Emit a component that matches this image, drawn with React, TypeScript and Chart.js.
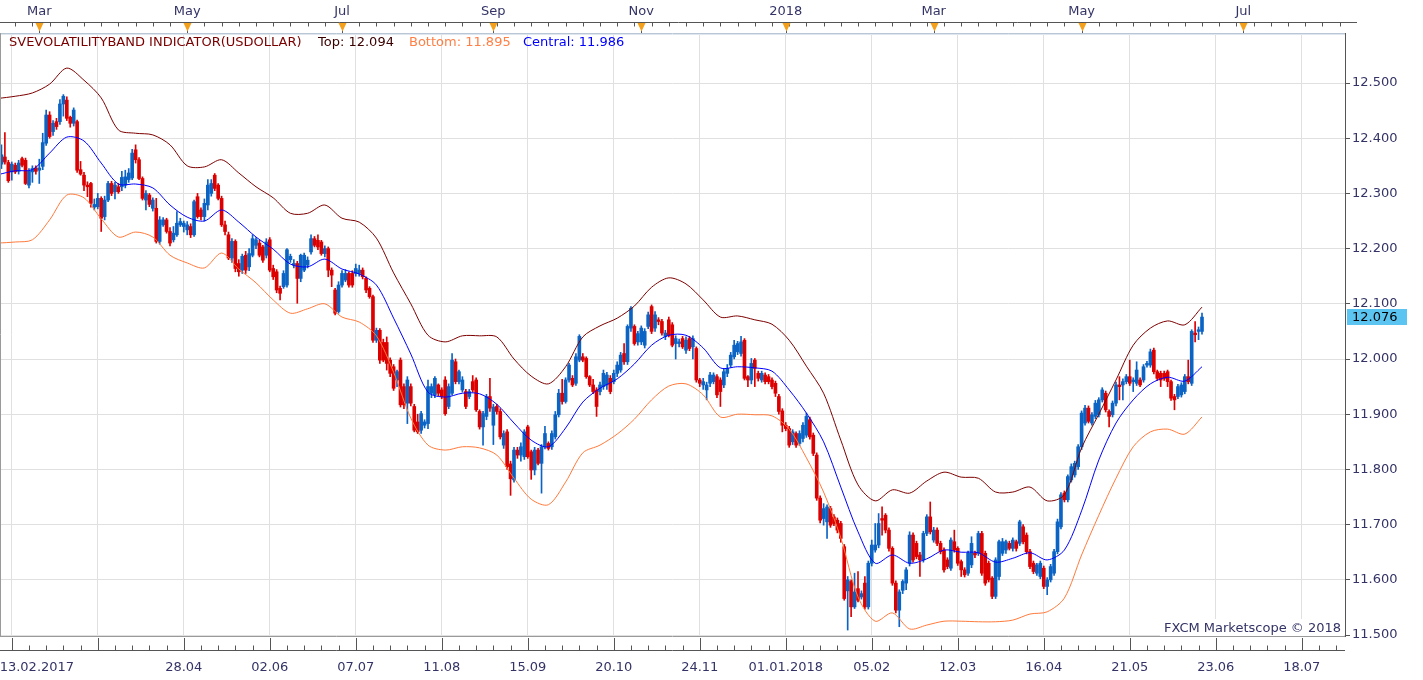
import React, { useEffect, useRef } from 'react';
import { Chart, registerables } from 'chart.js';
Chart.register(...registerables);

// Daily candles USDOLLAR, index 0 = 13.02.2017 : [open, high, low, close]
const OHLC: [number, number, number, number][] = [
  // 0-36
  [12.345,12.360,12.335,12.352],[12.353,12.388,12.345,12.370],[12.366,12.410,12.353,12.357],[12.356,12.360,12.320,12.323],
  [12.339,12.357,12.324,12.353],[12.351,12.355,12.336,12.339],[12.340,12.360,12.335,12.355],[12.363,12.366,12.348,12.351],
  [12.360,12.364,12.316,12.318],[12.315,12.345,12.310,12.340],[12.339,12.350,12.320,12.345],[12.346,12.350,12.335,12.340],
  [12.342,12.362,12.318,12.346],[12.349,12.409,12.343,12.392],[12.391,12.451,12.387,12.442],[12.442,12.448,12.400,12.403],
  [12.412,12.432,12.405,12.427],[12.430,12.436,12.416,12.421],[12.430,12.470,12.425,12.462],[12.462,12.479,12.440,12.476],
  [12.469,12.475,12.432,12.436],[12.438,12.440,12.420,12.427],[12.427,12.455,12.422,12.451],[12.430,12.433,12.338,12.342],
  [12.343,12.358,12.333,12.335],[12.333,12.338,12.305,12.315],[12.315,12.321,12.294,12.312],[12.318,12.320,12.275,12.282],
  [12.275,12.290,12.270,12.280],[12.276,12.300,12.272,12.291],[12.291,12.294,12.231,12.255],[12.258,12.295,12.252,12.288],
  [12.288,12.322,12.285,12.318],[12.318,12.322,12.296,12.300],[12.303,12.320,12.290,12.315],[12.312,12.318,12.300,12.303],
  [12.312,12.340,12.305,12.329],
  // 37-71
  [12.315,12.342,12.310,12.330],[12.325,12.345,12.320,12.337],[12.328,12.380,12.325,12.373],[12.379,12.388,12.355,12.361],
  [12.361,12.365,12.325,12.327],[12.327,12.330,12.288,12.291],[12.288,12.305,12.270,12.300],[12.297,12.300,12.276,12.280],
  [12.273,12.292,12.268,12.288],[12.273,12.291,12.210,12.213],[12.213,12.258,12.208,12.252],[12.243,12.256,12.240,12.252],
  [12.252,12.255,12.228,12.231],[12.231,12.238,12.205,12.210],[12.216,12.240,12.212,12.228],[12.225,12.267,12.222,12.246],
  [12.243,12.255,12.240,12.249],[12.240,12.250,12.230,12.246],[12.234,12.249,12.225,12.243],[12.240,12.245,12.220,12.225],
  [12.225,12.288,12.222,12.285],[12.294,12.300,12.255,12.258],[12.270,12.274,12.252,12.258],[12.258,12.290,12.250,12.282],
  [12.279,12.325,12.270,12.315],[12.300,12.325,12.295,12.318],[12.333,12.336,12.305,12.309],[12.315,12.318,12.288,12.291],
  [12.291,12.295,12.240,12.243],[12.243,12.250,12.225,12.231],[12.225,12.230,12.180,12.183],[12.183,12.218,12.175,12.213],
  [12.213,12.216,12.158,12.164],[12.173,12.180,12.150,12.158],[12.161,12.190,12.155,12.186],
  // 72-106
  [12.188,12.195,12.155,12.161],[12.167,12.200,12.160,12.191],[12.188,12.225,12.185,12.218],[12.206,12.220,12.200,12.216],
  [12.210,12.215,12.185,12.188],[12.203,12.206,12.175,12.179],[12.188,12.218,12.183,12.212],[12.216,12.220,12.158,12.161],
  [12.164,12.170,12.144,12.149],[12.158,12.162,12.120,12.125],[12.128,12.132,12.107,12.119],[12.131,12.160,12.128,12.155],
  [12.134,12.200,12.130,12.198],[12.180,12.190,12.175,12.186],[12.170,12.180,12.165,12.173],[12.173,12.177,12.101,12.146],
  [12.146,12.190,12.140,12.188],[12.161,12.192,12.158,12.188],[12.170,12.185,12.165,12.179],[12.194,12.225,12.190,12.218],
  [12.218,12.222,12.203,12.206],[12.215,12.225,12.198,12.203],[12.212,12.215,12.188,12.191],[12.191,12.205,12.185,12.200],
  [12.200,12.203,12.149,12.161],[12.161,12.165,12.131,12.152],[12.125,12.128,12.080,12.083],[12.086,12.140,12.083,12.134],
  [12.134,12.160,12.130,12.155],[12.143,12.162,12.140,12.155],[12.155,12.158,12.130,12.134],[12.155,12.160,12.130,12.134],
  [12.155,12.172,12.150,12.164],[12.155,12.170,12.150,12.161],[12.161,12.165,12.145,12.149],
  // 107-141
  [12.146,12.149,12.120,12.125],[12.128,12.131,12.110,12.113],[12.113,12.116,12.030,12.034],[12.034,12.056,12.030,12.052],
  [12.052,12.055,11.992,11.998],[12.030,12.036,11.995,11.998],[12.030,12.040,11.980,11.992],[11.998,12.002,11.968,11.974],
  [11.986,11.990,11.943,11.947],[11.962,11.980,11.950,11.977],[11.998,12.002,11.913,11.917],[11.950,11.955,11.910,11.917],
  [11.920,11.968,11.883,11.962],[11.950,11.955,11.915,11.920],[11.914,11.918,11.868,11.871],[11.886,11.900,11.865,11.868],
  [11.871,11.905,11.865,11.901],[11.880,11.890,11.875,11.886],[11.883,11.962,11.874,11.950],[11.938,11.955,11.930,11.950],
  [11.935,11.968,11.930,11.965],[11.953,11.955,11.933,11.938],[11.944,11.948,11.928,11.932],[11.962,11.968,11.898,11.901],
  [11.914,11.955,11.910,11.950],[11.938,12.010,11.935,11.998],[11.995,12.000,11.955,11.959],[11.959,11.980,11.955,11.977],
  [11.944,11.968,11.940,11.962],[11.941,11.945,11.910,11.914],[11.932,11.945,11.928,11.941],[11.959,11.970,11.940,11.944],
  [11.962,11.966,11.905,11.908],[11.905,11.908,11.873,11.877],[11.877,11.905,11.844,11.901],
  // 142-176
  [11.896,11.936,11.890,11.932],[11.932,11.965,11.905,11.911],[11.880,11.918,11.845,11.913],[11.914,11.918,11.900,11.905],
  [11.905,11.910,11.855,11.859],[11.844,11.870,11.838,11.865],[11.868,11.872,11.800,11.805],[11.810,11.815,11.753,11.783],
  [11.781,11.840,11.777,11.835],[11.835,11.840,11.820,11.826],[11.826,11.848,11.815,11.841],[11.823,11.872,11.818,11.868],
  [11.877,11.880,11.820,11.823],[11.832,11.835,11.782,11.799],[11.799,11.840,11.790,11.835],[11.835,11.838,11.808,11.811],
  [11.811,11.845,11.757,11.841],[11.841,11.878,11.837,11.865],[11.847,11.850,11.835,11.838],[11.841,11.870,11.836,11.865],
  [11.859,11.905,11.855,11.899],[11.899,11.945,11.895,11.938],[11.938,11.963,11.918,11.923],[11.923,11.966,11.920,11.962],
  [11.962,11.992,11.958,11.989],[11.965,11.970,11.950,11.953],[11.956,12.010,11.952,12.004],[11.998,12.044,11.995,12.041],
  [12.004,12.010,11.995,11.998],[12.001,12.004,11.965,11.968],[11.968,11.970,11.950,11.953],[11.953,11.963,11.937,11.941],
  [11.944,11.948,11.896,11.914],[11.941,11.958,11.935,11.953],[11.950,11.980,11.945,11.974],
  // 177-211
  [11.953,11.976,11.945,11.971],[11.965,11.970,11.937,11.941],[11.959,11.980,11.955,11.974],[11.974,11.995,11.968,11.989],
  [11.980,12.012,11.976,12.007],[12.010,12.028,11.990,11.995],[11.995,12.062,11.990,12.059],[12.056,12.095,12.050,12.092],
  [12.059,12.062,12.025,12.028],[12.031,12.050,12.025,12.046],[12.031,12.060,12.026,12.056],[12.025,12.055,12.020,12.050],
  [12.059,12.085,12.055,12.080],[12.095,12.098,12.046,12.050],[12.056,12.086,12.050,12.080],[12.071,12.075,12.062,12.068],
  [12.068,12.072,12.043,12.047],[12.041,12.052,12.035,12.047],[12.071,12.076,12.040,12.043],[12.062,12.066,12.022,12.025],
  [12.028,12.042,12.000,12.037],[12.028,12.036,12.022,12.031],[12.037,12.041,12.019,12.022],[12.016,12.040,12.010,12.034],
  [12.037,12.041,12.015,12.019],[12.022,12.042,12.000,12.037],[12.019,12.022,11.958,11.962],[11.962,11.965,11.950,11.956],
  [11.953,11.965,11.945,11.959],[11.944,11.958,11.926,11.953],[11.956,11.976,11.950,11.971],[11.959,11.975,11.955,11.971],
  [11.968,11.972,11.930,11.935],[11.962,11.966,11.914,11.941],[11.953,11.982,11.948,11.977],
  // 212-245
  [11.974,11.990,11.968,11.983],[11.989,12.012,11.985,12.007],[12.004,12.034,12.000,12.025],[12.013,12.032,12.008,12.028],
  [12.010,12.041,12.005,12.031],[12.034,12.037,11.962,11.965],[11.968,11.970,11.950,11.962],[11.962,12.001,11.955,11.992],
  [11.998,12.001,11.950,11.983],[11.974,11.978,11.960,11.965],[11.962,11.978,11.958,11.974],[11.971,11.975,11.955,11.959],
  [11.968,11.972,11.955,11.959],[11.962,11.966,11.946,11.950],[11.956,11.960,11.932,11.938],[11.932,11.936,11.900,11.905],
  [11.906,11.910,11.868,11.880],[11.880,11.885,11.870,11.874],[11.874,11.878,11.840,11.844],[11.850,11.872,11.845,11.868],
  [11.865,11.868,11.840,11.844],[11.847,11.870,11.843,11.865],[11.856,11.885,11.850,11.880],[11.862,11.902,11.858,11.896],
  [11.890,11.895,11.855,11.859],[11.862,11.866,11.825,11.829],[11.826,11.830,11.744,11.748],[11.748,11.752,11.703,11.708],
  [11.711,11.738,11.699,11.729],[11.705,11.736,11.675,11.732],[11.729,11.733,11.695,11.699],[11.714,11.718,11.698,11.702],
  [11.708,11.712,11.685,11.690],[11.702,11.706,11.668,11.675],
  // 246-280
  [11.660,11.664,11.563,11.566],[11.580,11.606,11.509,11.600],[11.597,11.600,11.533,11.551],[11.551,11.612,11.548,11.578],
  [11.584,11.615,11.560,11.563],[11.569,11.580,11.565,11.575],[11.594,11.606,11.547,11.551],[11.551,11.634,11.547,11.630],
  [11.630,11.672,11.625,11.663],[11.654,11.702,11.650,11.663],[11.663,11.720,11.658,11.702],[11.711,11.732,11.681,11.708],
  [11.717,11.720,11.685,11.690],[11.690,11.694,11.652,11.657],[11.657,11.660,11.590,11.594],[11.594,11.598,11.540,11.545],
  [11.545,11.582,11.515,11.578],[11.581,11.600,11.575,11.597],[11.594,11.622,11.582,11.618],[11.630,11.687,11.625,11.681],
  [11.681,11.685,11.632,11.636],[11.666,11.670,11.638,11.642],[11.645,11.650,11.606,11.636],[11.636,11.688,11.632,11.684],
  [11.684,11.718,11.680,11.714],[11.714,11.741,11.683,11.687],[11.672,11.695,11.668,11.690],[11.690,11.694,11.662,11.666],
  [11.666,11.670,11.647,11.651],[11.654,11.658,11.614,11.618],[11.636,11.640,11.620,11.624],[11.621,11.676,11.617,11.672],
  [11.669,11.690,11.650,11.654],[11.657,11.660,11.626,11.630],[11.633,11.636,11.606,11.618],
  // 281-315
  [11.618,11.622,11.605,11.609],[11.612,11.652,11.608,11.648],[11.627,11.678,11.622,11.666],[11.648,11.652,11.640,11.645],
  [11.648,11.688,11.644,11.684],[11.684,11.688,11.608,11.612],[11.648,11.652,11.590,11.594],[11.630,11.634,11.596,11.600],
  [11.603,11.606,11.566,11.570],[11.570,11.640,11.566,11.636],[11.606,11.672,11.600,11.669],[11.648,11.675,11.644,11.669],
  [11.654,11.672,11.648,11.669],[11.666,11.670,11.654,11.657],[11.657,11.676,11.652,11.672],[11.669,11.672,11.652,11.657],
  [11.666,11.708,11.662,11.705],[11.696,11.700,11.665,11.669],[11.681,11.685,11.647,11.651],[11.651,11.655,11.620,11.624],
  [11.630,11.634,11.611,11.615],[11.612,11.630,11.608,11.627],[11.606,11.634,11.602,11.630],[11.621,11.625,11.584,11.588],
  [11.588,11.604,11.573,11.600],[11.600,11.628,11.596,11.624],[11.612,11.655,11.608,11.651],[11.651,11.710,11.647,11.705],
  [11.696,11.758,11.692,11.754],[11.757,11.761,11.741,11.745],[11.745,11.790,11.741,11.787],[11.781,11.810,11.777,11.805],
  [11.790,11.815,11.786,11.811],[11.805,11.845,11.800,11.841],[11.841,11.906,11.836,11.902],
  // 316-350
  [11.884,11.916,11.880,11.911],[11.911,11.915,11.884,11.887],[11.884,11.903,11.880,11.899],[11.896,11.925,11.892,11.920],
  [11.899,11.930,11.895,11.926],[11.926,11.948,11.922,11.944],[11.938,11.942,11.904,11.908],[11.905,11.908,11.877,11.896],
  [11.899,11.924,11.895,11.920],[11.920,11.958,11.915,11.953],[11.953,11.968,11.926,11.950],[11.953,11.964,11.926,11.959],
  [11.959,11.972,11.955,11.968],[11.968,11.998,11.952,11.956],[11.959,11.966,11.941,11.962],[11.956,11.995,11.952,11.980],
  [11.962,11.966,11.950,11.953],[11.962,11.990,11.958,11.986],[11.989,11.996,11.985,11.992],[11.989,12.018,11.985,12.013],
  [12.016,12.020,11.973,11.977],[11.977,11.980,11.961,11.965],[11.974,11.978,11.950,11.962],[11.974,11.978,11.961,11.965],
  [11.977,11.980,11.950,11.959],[11.959,11.962,11.925,11.929],[11.932,11.936,11.908,11.926],[11.932,11.954,11.928,11.950],
  [11.935,11.957,11.931,11.953],[11.941,11.972,11.937,11.968],[11.968,11.998,11.955,11.959],[11.956,12.053,11.952,12.050],
  [12.047,12.068,12.031,12.044],[12.050,12.058,12.035,12.053],[12.050,12.083,12.045,12.076],
];

// SVE volatility band, one value every BAND_STEP candles (index 0, 5, 10 ... 350)
const BAND_STEP = 5;
const TOP_BAND = [
  12.472,12.476,12.482,12.498,12.527,12.505,12.473,12.415,12.409,12.406,12.388,12.350,12.348,12.361,12.337,12.312,
  12.292,12.264,12.264,12.279,12.255,12.248,12.219,12.156,12.100,12.043,12.031,12.042,12.042,12.040,12.000,11.969,
  11.955,11.986,12.040,12.060,12.074,12.096,12.130,12.147,12.136,12.107,12.076,12.078,12.071,12.063,12.034,11.987,
  11.938,11.853,11.772,11.743,11.763,11.757,11.779,11.795,11.786,11.784,11.759,11.759,11.768,11.743,11.754,11.839,
  11.900,11.962,12.025,12.056,12.069,12.062,12.094,
];
const CENTRAL_BAND = [
  12.334,12.341,12.343,12.373,12.402,12.395,12.355,12.317,12.317,12.310,12.279,12.257,12.250,12.270,12.248,12.221,
  12.199,12.172,12.167,12.181,12.163,12.154,12.134,12.074,12.009,11.940,11.931,11.938,11.937,11.918,11.884,11.853,
  11.841,11.875,11.922,11.947,11.964,11.991,12.025,12.043,12.043,12.020,11.984,11.986,11.984,11.978,11.944,11.902,
  11.850,11.768,11.687,11.630,11.645,11.630,11.638,11.654,11.650,11.649,11.632,11.639,11.649,11.636,11.654,11.725,
  11.817,11.884,11.926,11.955,11.967,11.960,11.986,
];
const BOTTOM_BAND = [
  12.210,12.212,12.216,12.252,12.297,12.292,12.254,12.221,12.230,12.221,12.188,12.174,12.165,12.192,12.163,12.138,
  12.107,12.083,12.091,12.100,12.076,12.067,12.042,11.976,11.893,11.844,11.835,11.841,11.839,11.826,11.784,11.746,
  11.736,11.777,11.830,11.844,11.864,11.891,11.926,11.951,11.955,11.935,11.895,11.900,11.899,11.897,11.873,11.821,
  11.759,11.676,11.569,11.525,11.540,11.511,11.518,11.525,11.525,11.524,11.524,11.527,11.538,11.542,11.567,11.645,
  11.717,11.784,11.841,11.868,11.873,11.864,11.895,
];

// axis ticks (positions are candle indices)
const BOTTOM_TICK_IDX = [4, 11.3, 29, 54, 79, 104, 129, 154, 179, 204, 229, 254, 279, 304, 329, 354, 379];
const BOTTOM_TICK_LABELS = ['', '13.02.2017', '', '28.04', '02.06', '07.07', '11.08', '15.09', '20.10', '24.11',
  '01.01.2018', '05.02', '12.03', '16.04', '21.05', '23.06', '18.07'];
const MONTH_IDX = [12, 55, 100, 144, 187, 229, 272, 315, 362];
const MONTH_LABELS = ['Mar', 'May', 'Jul', 'Sep', 'Nov', '2018', 'Mar', 'May', 'Jul'];
const Y_TICKS = [11.5, 11.6, 11.7, 11.8, 11.9, 12.0, 12.1, 12.2, 12.3, 12.4, 12.5];

const X_MIN = 0.58;
const X_MAX = 391.57;
const Y_MIN = 11.4982;
const Y_MAX = 12.5906;

const UP = '#0b63c4';
const DOWN = '#dd0000';
const TEXT = '#333366';
const FONT = 'DejaVu Sans';
const FS = 13;

const noPad = (s: any) => {
  s.paddingLeft = 0;
  s.paddingRight = 0;
};

const decor = {
  id: 'decor',
  beforeDraw(chart: any) {
    const c = chart.ctx;
    c.save();
    c.fillStyle = '#ffffff';
    c.fillRect(0, 0, chart.width, chart.height);
    c.restore();
  },
  afterDraw(chart: any) {
    const c: CanvasRenderingContext2D = chart.ctx;
    const a = chart.chartArea;
    const xs = chart.scales.x;
    const ys = chart.scales.y;
    const ln = (x1: number, y1: number, x2: number, y2: number, col: string) => {
      c.strokeStyle = col;
      c.beginPath();
      c.moveTo(x1, y1);
      c.lineTo(x2, y2);
      c.stroke();
    };
    c.save();
    c.lineWidth = 1;
    // frame
    ln(a.left, a.top + 0.5, a.right, a.top + 0.5, '#b9c6d6');
    ln(a.left, a.top + 1.5, a.right, a.top + 1.5, '#dfe6ee');
    ln(a.left + 0.5, a.top, a.left + 0.5, a.bottom, '#9a9a9a');
    ln(a.left, a.bottom + 0.5, a.right, a.bottom + 0.5, '#9a9a9a');
    // top time strip
    const topY = 22.5;
    ln(0, topY, a.right + 12, topY, '#555555');
    for (let i = 0; i <= X_MAX; i += 5) {
      const px = Math.round(xs.getPixelForValue(i)) + 0.5;
      if (px < 0 || px > a.right) continue;
      ln(px, topY, px, topY + 4, '#555555');
    }
    MONTH_IDX.forEach((m) => {
      const px = Math.round(xs.getPixelForValue(m)) + 0.5;
      ln(px, topY, px, a.top, '#555555');
      c.fillStyle = '#f5a01a';
      c.beginPath();
      c.moveTo(px - 4, topY + 0.5);
      c.lineTo(px + 4, topY + 0.5);
      c.lineTo(px, topY + 9);
      c.closePath();
      c.fill();
    });
    // bottom time strip
    const botY = 650.5;
    ln(0, botY, a.right, botY, '#555555');
    for (let i = 4; i <= X_MAX; i += 5) {
      const px = Math.round(xs.getPixelForValue(i)) + 0.5;
      if (px > a.right) continue;
      const major = (i - 4) % 25 === 0;
      ln(px, botY, px, major ? a.bottom + 2 : botY - 5, '#555555');
    }
    // indicator legend
    c.font = `${FS}px ${FONT}`;
    c.textBaseline = 'middle';
    c.textAlign = 'left';
    const ly = 43;
    c.fillStyle = '#7a0000';
    c.fillText('SVEVOLATILITYBAND INDICATOR(USDOLLAR)', 9, ly);
    c.fillStyle = '#3a0000';
    c.fillText('Top: ' + TOP_BAND[TOP_BAND.length - 1].toFixed(3), 318, ly);
    c.fillStyle = '#ff7f45';
    c.fillText('Bottom: ' + BOTTOM_BAND[BOTTOM_BAND.length - 1].toFixed(3), 409, ly);
    c.fillStyle = '#0000ff';
    c.fillText('Central: ' + CENTRAL_BAND[CENTRAL_BAND.length - 1].toFixed(3), 523, ly);
    // copyright
    const cr = 'FXCM Marketscope \u00a9 2018';
    const w = c.measureText(cr).width;
    c.fillStyle = '#ffffff';
    c.fillRect(a.right - w - 8, a.bottom - 17, w + 7, 17);
    c.fillStyle = TEXT;
    c.textAlign = 'right';
    c.fillText(cr, a.right - 4, a.bottom - 7);
    // last price tag
    const last = OHLC[OHLC.length - 1][3];
    const py = Math.round(ys.getPixelForValue(last));
    c.fillStyle = '#5cc4f0';
    c.fillRect(a.right + 2, py - 8, 60, 16);
    c.fillStyle = '#000000';
    c.textAlign = 'left';
    c.fillText(last.toFixed(3), a.right + 7, py + 1);
    c.restore();
  },
};

export default function App() {
  const ref = useRef<HTMLCanvasElement>(null);
  useEffect(() => {
    document.body.style.margin = '0';
    const colors = OHLC.map((d) => (d[3] >= d[0] ? UP : DOWN));
    const band = (arr: number[]) => arr.map((v, k) => ({ x: k * BAND_STEP, y: v }));
    const lineDs = (label: string, arr: number[], color: string) => ({
      type: 'line' as const,
      label,
      data: band(arr),
      borderColor: color,
      borderWidth: 1,
      pointRadius: 0,
      tension: 0.3,
      xAxisID: 'x',
      yAxisID: 'y',
      order: 0,
    });
    const chart = new Chart(ref.current as HTMLCanvasElement, {
      type: 'bar',
      data: {
        datasets: [
          lineDs('Top', TOP_BAND, '#7d0000'),
          lineDs('Bottom', BOTTOM_BAND, '#ff7a3c'),
          lineDs('Central', CENTRAL_BAND, '#0000ff'),
          {
            type: 'bar',
            label: 'body',
            data: OHLC.map((d, i) => ({ x: i, y: [d[0], d[3]] })) as any,
            backgroundColor: colors,
            barThickness: 3,
            minBarLength: 1,
            grouped: false,
            xAxisID: 'x',
            yAxisID: 'y',
            order: 1,
          },
          {
            type: 'bar',
            label: 'wick',
            data: OHLC.map((d, i) => ({ x: i, y: [d[2], d[1]] })) as any,
            backgroundColor: colors,
            barThickness: 1,
            grouped: false,
            xAxisID: 'x',
            yAxisID: 'y',
            order: 2,
          },
        ] as any,
      },
      options: {
        responsive: false,
        animation: false,
        layout: { padding: 0 },
        plugins: { legend: { display: false }, tooltip: { enabled: false } },
        scales: {
          x: {
            type: 'linear',
            position: 'bottom',
            min: X_MIN,
            max: X_MAX,
            bounds: 'data',
            offset: false,
            afterBuildTicks: (s: any) => {
              s.ticks = BOTTOM_TICK_IDX.map((v) => ({ value: v }));
            },
            afterFit: (s: any) => {
              s.height = 44;
              noPad(s);
            },
            ticks: {
              autoSkip: false,
              maxRotation: 0,
              padding: 24,
              color: TEXT,
              font: { family: FONT, size: FS },
              callback: (_v: any, i: number) => BOTTOM_TICK_LABELS[i],
            },
            grid: {
              offset: false,
              drawTicks: false,
              color: (ctx: any) => (ctx.tick && BOTTOM_TICK_LABELS[ctx.index] !== '13.02.2017' ? '#e0e0e0' : 'rgba(0,0,0,0)'),
            },
            border: { display: false },
          },
          xTop: {
            type: 'linear',
            position: 'top',
            min: X_MIN,
            max: X_MAX,
            bounds: 'data',
            offset: false,
            afterBuildTicks: (s: any) => {
              s.ticks = MONTH_IDX.map((v) => ({ value: v }));
            },
            afterFit: (s: any) => {
              s.height = 33;
              noPad(s);
            },
            ticks: {
              autoSkip: false,
              maxRotation: 0,
              padding: 14,
              color: TEXT,
              font: { family: FONT, size: FS },
              callback: (_v: any, i: number) => MONTH_LABELS[i],
            },
            grid: { drawOnChartArea: false, drawTicks: false },
            border: { display: false },
          },
          y: {
            type: 'linear',
            position: 'right',
            min: Y_MIN,
            max: Y_MAX,
            bounds: 'data',
            afterBuildTicks: (s: any) => {
              s.ticks = Y_TICKS.map((v) => ({ value: v }));
            },
            afterFit: (s: any) => {
              s.width = 78;
              s.paddingTop = 0;
              s.paddingBottom = 0;
            },
            ticks: {
              padding: 2,
              color: TEXT,
              font: { family: FONT, size: FS },
              callback: (v: any) => Number(v).toFixed(3),
            },
            grid: { color: '#e0e0e0', tickLength: 5, tickColor: '#555555' },
            border: { display: true, color: '#555555' },
          },
        },
      } as any,
      plugins: [decor],
    });
    return () => chart.destroy();
  }, []);
  return (
    <div style={{ width: 1423, height: 680 }}>
      <canvas ref={ref} width={1423} height={680} style={{ display: 'block' }} />
    </div>
  );
}
